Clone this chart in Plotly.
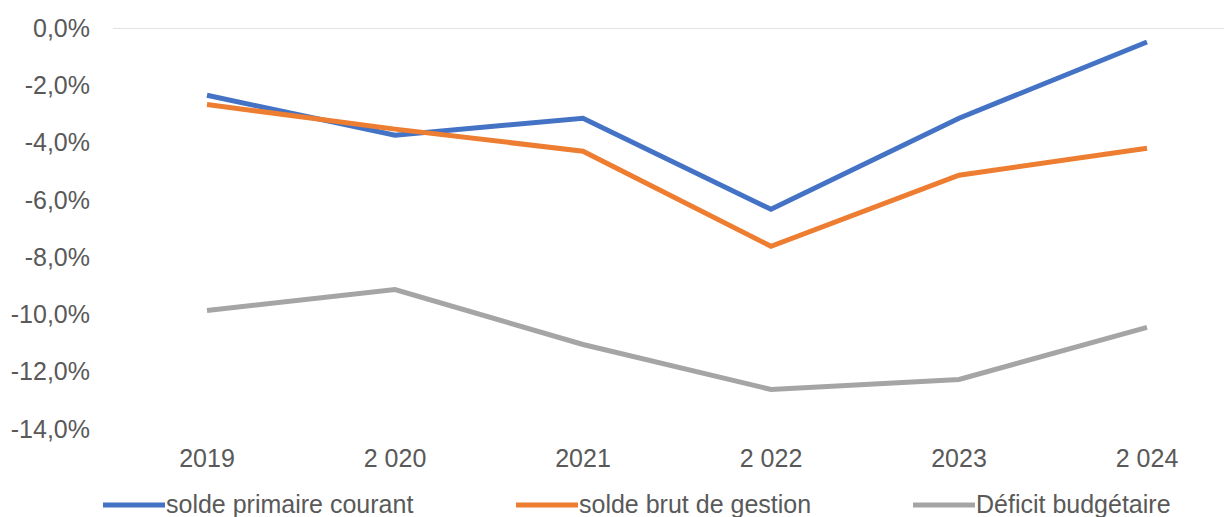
import plotly.graph_objects as go

# Years on the category axis (labels as printed)
years = ["2019", "2 020", "2021", "2 022", "2023", "2 024"]

# Ratios in percent
solde_primaire_courant = [-2.35, -3.74, -3.15, -6.33, -3.15, -0.49]
solde_brut_de_gestion = [-2.67, -3.53, -4.30, -7.62, -5.14, -4.20]
deficit_budgetaire = [-9.86, -9.13, -11.05, -12.62, -12.27, -10.45]

series_names = ["solde primaire courant", "solde brut de gestion", "Déficit budgétaire"]
series_values = [solde_primaire_courant, solde_brut_de_gestion, deficit_budgetaire]
series_colors = ["#4472C4", "#ED7D31", "#A5A5A5"]

y_tickvals = [0, -2, -4, -6, -8, -10, -12, -14]
y_ticktext = ["0,0%", "-2,0%", "-4,0%", "-6,0%", "-8,0%", "-10,0%", "-12,0%", "-14,0%"]

W, H = 1224, 517
M_LEFT, M_RIGHT, M_TOP, M_BOTTOM = 113, 0, 28, 88
PLOT_W = W - M_LEFT - M_RIGHT
PLOT_H = H - M_TOP - M_BOTTOM

FONT = "Liberation Sans, Arial, sans-serif"
TEXT_COLOR = "#595959"

fig = go.Figure()
for name, vals, col in zip(series_names, series_values, series_colors):
    fig.add_trace(go.Scatter(
        x=list(range(len(years))), y=vals, name=name, mode="lines",
        line=dict(color=col, width=5), showlegend=False,
        hovertemplate="%{y:.1f}%<extra>" + name + "</extra>",
    ))


def px_x(px):
    return (px - M_LEFT) / PLOT_W


def px_y(py):
    return (H - M_BOTTOM - py) / PLOT_H


shapes = [
    # horizontal axis line at 0 %
    dict(type="line", xref="paper", yref="y", x0=0, x1=1, y0=0, y1=0,
         line=dict(color="#D9D9D9", width=1.5), layer="below"),
]
annotations = []

# legend row below the axis: sample line + label for each series
legend_line_starts = [103, 516, 913]
sample_len = 62
legend_y = 505
for name, col, x0 in zip(series_names, series_colors, legend_line_starts):
    shapes.append(dict(type="line", xref="paper", yref="paper",
                       x0=px_x(x0), x1=px_x(x0 + sample_len),
                       y0=px_y(legend_y), y1=px_y(legend_y),
                       line=dict(color=col, width=5)))
    annotations.append(dict(text=name, xref="paper", yref="paper",
                            x=px_x(x0 + sample_len - 1), y=px_y(legend_y - 1),
                            xanchor="left", yanchor="middle", showarrow=False,
                            font=dict(family=FONT, size=25, color=TEXT_COLOR)))

fig.update_layout(
    width=W, height=H,
    margin=dict(l=M_LEFT, r=M_RIGHT, t=M_TOP, b=M_BOTTOM, pad=0),
    paper_bgcolor="white", plot_bgcolor="white",
    font=dict(family=FONT, size=25, color=TEXT_COLOR),
    shapes=shapes, annotations=annotations,
    xaxis=dict(
        range=[-0.5, -0.5 + PLOT_W / 188.0],
        tickmode="array", tickvals=list(range(len(years))), ticktext=years,
        showgrid=False, zeroline=False, showline=False, ticks="",
        ticklabelstandoff=12,
        tickfont=dict(family=FONT, size=25, color=TEXT_COLOR),
    ),
    yaxis=dict(
        range=[-14, 0],
        tickmode="array", tickvals=y_tickvals, ticktext=y_ticktext,
        showgrid=False, zeroline=False, showline=False, ticks="",
        ticklabelstandoff=22,
        tickfont=dict(family=FONT, size=25, color=TEXT_COLOR),
    ),
)

fig.write_html("out.html")
